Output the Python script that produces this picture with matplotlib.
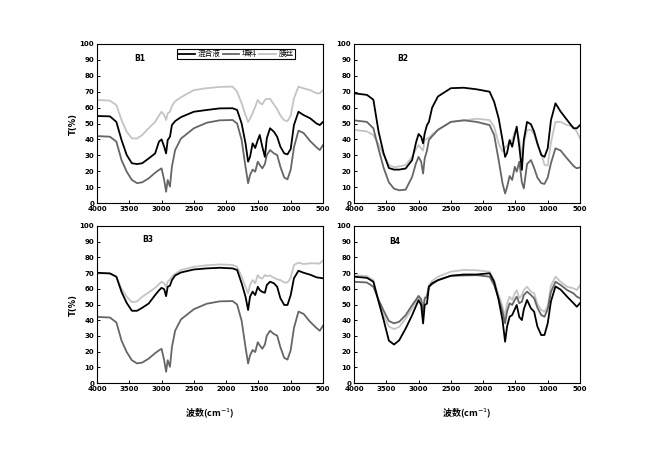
import matplotlib
matplotlib.use("Agg")
import matplotlib.pyplot as plt

plt.rcParams['font.family'] = ['Noto Sans CJK SC', 'DejaVu Sans']
plt.rcParams['mathtext.fontset'] = 'dejavusans'

# wavenumber grid (cm^-1)
wavenumber = [4000, 3800, 3700, 3620, 3540, 3460, 3380, 3300, 3200, 3100, 3040, 3000,
              2960, 2930, 2905, 2870, 2840, 2790, 2700, 2500, 2300, 2100,
              1900, 1830, 1760, 1700, 1660, 1630, 1590, 1550, 1510, 1480,
              1440, 1400, 1370, 1320, 1260, 1210, 1160, 1100, 1050, 1000,
              950, 880, 800, 700, 600, 550, 500]

series_names = ['混合液', '填料', '膜丝']
panel_labels = ['B1', 'B2', 'B3', 'B4']

# B1
mixed_B1 = [54.7, 54.5, 51, 39.6, 30.2, 25, 24.5, 25, 28, 31.2, 38.6, 40, 35.4, 31.2, 39.6, 41.7, 49, 51.5, 54, 57.4, 58.5, 59.5,
            59.6, 58.5, 50, 37.5, 26, 29, 37.5, 34.6, 39.6, 42.8, 35.4, 29, 40.7, 47, 44.8, 41.7, 35.4, 31.2, 30.6, 34, 49, 57.4, 55.3, 53.3, 50, 49, 51]
filler_B1 = [42.1, 41.7, 38.6, 27, 19.7, 14.5, 12.5, 13, 15.5, 19, 20.8, 21.8, 14.5, 7.1, 14.5, 10.3, 22.8, 33.3, 40.5, 47, 50.5, 52,
             52.2, 50, 39.6, 22.8, 12.4, 17.6, 21, 19.7, 26, 24, 21.8, 24.5, 30.2, 33.3, 31.2, 30.2, 22.8, 16, 14.9, 21, 35, 45.5, 44, 39, 35, 33.3, 36.5]
membrane_B1 = [64.8, 64.4, 61.6, 52.2, 44.8, 40.7, 40.5, 42.8, 47, 51, 55, 57.4, 55.3, 52.2, 56.4, 57.4, 61, 64, 66.5, 71, 72.2, 73,
               73.2, 70, 62.7, 55.3, 51, 53, 56.5, 60.6, 64.8, 63, 62, 64.8, 65.5, 65.5, 62, 59, 55, 52, 51.5, 55, 65.8, 73.2, 72.1, 71, 69, 69, 71]

# B2
mixed_B2 = [69, 68, 65, 45, 31, 22, 21, 21, 21.7, 27, 38, 43.4, 41.7, 37.5, 43.8, 49, 51, 60, 67, 72.2, 72.5, 71.5,
            70, 63.7, 53.3, 39.6, 29, 31.4, 39.6, 35.4, 42.8, 48, 35.4, 20.8, 39.6, 51, 49.5, 44.8, 37.5, 30.2, 29, 34.4, 52, 62.7, 57.5, 52.2, 47, 47, 49]
filler_B2 = [52, 51, 47, 34, 22, 13, 9, 8, 8.4, 16.4, 25, 29, 26, 18.5, 28, 33, 39.6, 42, 46, 51, 52, 51,
             49, 42.8, 27, 12.4, 6, 10, 17, 14.5, 22.8, 19.7, 26, 13, 9.2, 24.5, 27, 22, 16, 12.5, 12, 16, 25, 34.4, 33, 28, 23.3, 21.8, 22.4]
membrane_B2 = [46, 45, 42.7, 37, 30, 24, 22.5, 23, 23.8, 29, 34, 36.4, 34.3, 33, 39.6, 40.6, 41, 43, 46, 51, 52, 53,
               52.2, 48, 37.5, 32.3, 35, 36, 38.6, 39.6, 44.8, 46, 39.6, 30.2, 38, 46, 46, 43, 37, 31, 24, 23.5, 38, 51, 51, 49, 48, 44.8, 40.7]

# B3
mixed_B3 = [70.2, 69.8, 67.7, 58, 51, 46, 46, 47.9, 50.6, 56, 59, 60.6, 59.8, 55.3, 61.3, 62, 65.5, 68.5, 70.4, 72.3, 73, 73.4,
            73, 72, 63.5, 55, 46.5, 55, 58.2, 56, 61.3, 59.2, 58, 57.5, 62.4, 64.5, 63.5, 61.3, 54, 49.7, 49.7, 56, 66.7, 71.5, 70.2, 69, 67.3, 67, 66.7]
filler_B3 = [42.1, 41.7, 38.6, 27, 19.7, 14.5, 12.5, 13, 15.5, 19, 20.8, 21.8, 14.5, 7.1, 14.5, 10.3, 22.8, 33.3, 40.5, 47, 50.5, 52,
             52.2, 50, 39.6, 22.8, 12.4, 17.6, 21, 19.7, 26, 24, 21.8, 24.5, 30.2, 33.3, 31.2, 30.2, 22.8, 16, 14.9, 21, 35, 45.5, 44, 39, 35, 33.3, 36.5]
membrane_B3 = [69.8, 69.8, 67.7, 60, 55, 51.5, 52, 54.9, 57.7, 60.6, 63, 64.5, 63.4, 61.3, 64.5, 66, 67.7, 69.5, 72, 74, 75, 75.5,
               75.2, 74, 67.7, 61.3, 57.1, 62.4, 65.6, 63.5, 68.8, 67, 66.5, 68.8, 68, 68.5, 67, 66, 65.6, 64, 64, 67, 75.2, 76.6, 75.8, 76.2, 76.2, 76, 78.3]

# B4
mixed_B4 = [67.7, 67, 64.5, 52, 40, 27, 24.5, 27.2, 34.7, 43.2, 49, 52.8, 49.6, 37.9, 49.6, 50.6, 61.3, 63.5, 65.5, 68.3, 69.1, 69.1,
            69.9, 64.5, 52.9, 40.1, 26.3, 35.9, 42.2, 43.3, 47, 49.7, 42, 40.1, 47, 52.9, 47.6, 45.4, 36, 30.5, 30.6, 38, 52, 61.5, 59.5, 55, 50.8, 48.6, 50.8]
filler_B4 = [64.5, 64, 61.3, 53, 46, 39.5, 38, 39, 43.2, 49.6, 53, 55.5, 53.4, 45.3, 53.8, 55, 61.3, 63, 65.5, 68.3, 68.5, 68.7,
             67.7, 62.4, 54, 45.4, 38, 45.4, 50.8, 49.7, 53, 55, 50.8, 51.8, 56, 58.2, 56, 54, 48, 43.3, 42.2, 47, 58, 64.5, 62.4, 59.2, 57.1, 55, 54]
membrane_B4 = [68.7, 68.1, 65.5, 52, 43, 36, 34.3, 35.7, 41, 47.4, 52, 54.9, 52.8, 46.4, 54.3, 56, 62.3, 65, 67.7, 70.9, 72, 71.8,
               70.9, 65.6, 56, 48.6, 42.2, 50.8, 55, 52.9, 57, 59.2, 54, 56, 59.2, 61.3, 58.2, 57.1, 50.5, 46.5, 45.4, 49, 62, 67.7, 64.5, 61.3, 60.3, 59.2, 62.4]

x_ticks = [4000, 3500, 3000, 2500, 2000, 1500, 1000, 500]
y_ticks = list(range(0, 101, 10))

panels = [
    (mixed_B1, filler_B1, membrane_B1),
    (mixed_B2, filler_B2, membrane_B2),
    (mixed_B3, filler_B3, membrane_B3),
    (mixed_B4, filler_B4, membrane_B4),
]
colors = ['#000000', '#666666', '#c4c4c4']

W, H = 648, 454
fig = plt.figure(figsize=(W / 100, H / 100), dpi=100)

# axes boxes in pixels: (left, top, right, bottom)
boxes = [(97, 44, 323, 203), (354, 44, 580, 203), (97, 226, 323, 383), (354, 226, 580, 383)]
label_pos = [(0.19, 0.91), (0.215, 0.91), (0.225, 0.915), (0.18, 0.90)]

axes = []
for i, (l, t, r, b) in enumerate(boxes):
    ax = fig.add_axes([l / W, 1 - b / H, (r - l) / W, (b - t) / H])
    axes.append(ax)
    data = panels[i]
    # draw light first so dark lines sit on top
    for j in [2, 1, 0]:
        ax.plot(wavenumber, data[j], color=colors[j], lw=1.3, label=series_names[j])
    ax.set_xlim(4000, 500)
    ax.set_ylim(0, 100)
    ax.set_xticks(x_ticks)
    ax.set_yticks(y_ticks)
    ax.tick_params(direction='in', length=2.5, width=0.7, labelsize=5, pad=2)
    for lab in ax.get_xticklabels() + ax.get_yticklabels():
        lab.set_fontweight('bold')
        lab.set_family('DejaVu Sans')
    for s in ax.spines.values():
        s.set_linewidth(0.8)
    ax.text(label_pos[i][0], label_pos[i][1], panel_labels[i], transform=ax.transAxes,
            fontsize=5.5, fontweight='bold', ha='center', va='center', family='DejaVu Sans')
    if i in (0, 2):
        ax.set_ylabel('T(%)', fontsize=6, fontweight='bold', labelpad=1, family='DejaVu Sans')
    if i in (2, 3):
        ax.set_xlabel('波数(cm$^{-1}$)', fontsize=6.5, fontweight='bold', labelpad=10)

handles, labels = axes[0].get_legend_handles_labels()
order = [2, 1, 0]
leg = axes[0].legend([handles[k] for k in order], [labels[k] for k in order],
                     loc='upper left', bbox_to_anchor=(0.355, 0.968), ncol=3,
                     fontsize=5.5, handlelength=2.2, handletextpad=0.3, columnspacing=0.3,
                     borderpad=0.15, borderaxespad=0, fancybox=False, edgecolor='black',
                     framealpha=1)
leg.get_frame().set_linewidth(0.8)

fig.savefig('out.png', dpi=100)
